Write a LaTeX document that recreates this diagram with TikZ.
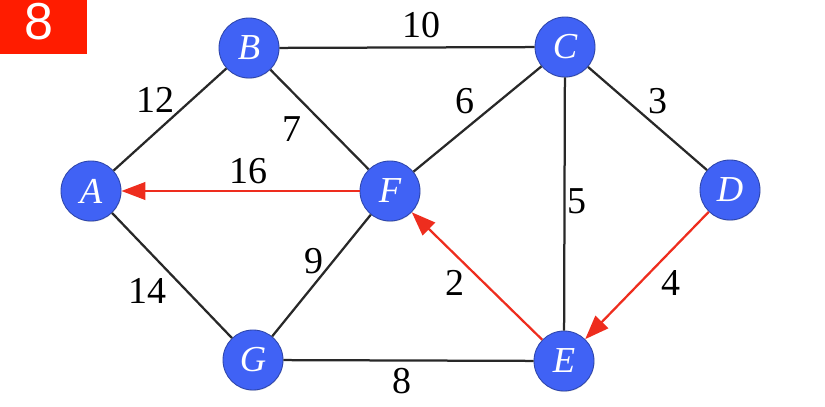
\documentclass[tikz,border=0pt]{standalone}
\usepackage{fontspec}
\setmainfont{Liberation Serif}
\newfontfamily\numfont{Liberation Sans}
\usepackage{tikz}
\usetikzlibrary{arrows.meta,shadows}

\definecolor{vblue}{RGB}{64,98,245}
\definecolor{vedge}{RGB}{40,40,40}
\definecolor{vred}{RGB}{238,45,30}
\definecolor{badgered}{RGB}{255,28,0}

\tikzset{
  vertex/.style={circle,fill=vblue,draw=vblue!70!black,line width=0.6pt,
    minimum size=1.5cm,inner sep=0pt,text=white,font=\fontsize{26}{26}\selectfont\itshape,
    drop shadow={shadow xshift=0.3pt,shadow yshift=-0.6pt,opacity=0.25}},
  edge/.style={draw=vedge,line width=1.6pt},
  redge/.style={draw=vred,line width=1.6pt,-{Triangle[length=0.6cm,width=0.44cm]}},
  wlabel/.style={font=\fontsize{27}{27}\selectfont,text=black}
}

\begin{document}
\begin{tikzpicture}[x=0.025cm,y=-0.025cm]
\useasboundingbox (0,0) rectangle (825,407);

% Badge
\fill[badgered] (0,0) rectangle (87,54);
\node[text=white,font=\numfont\fontsize{37}{37}\selectfont] (badge) at (39,22) {8};

% Vertices
\node[vertex] (A) at (91,191) {A};
\node[vertex] (B) at (249,48) {B};
\node[vertex] (C) at (565,47) {C};
\node[vertex] (D) at (730,190) {D};
\node[vertex] (F) at (390,191) {F};
\node[vertex] (G) at (253,360) {G};
\node[vertex] (E) at (564,361) {E};

% Edges
\draw[edge] (A) -- (B);
\draw[edge] (B) -- (C);
\draw[edge] (B) -- (F);
\draw[edge] (C) -- (F);
\draw[edge] (C) -- (D);
\draw[edge] (C) -- (E);
\draw[edge] (A) -- (G);
\draw[edge] (G) -- (F);
\draw[edge] (G) -- (E);

% Tree edges (red)
\draw[redge] (F) -- (A);
\draw[redge] (E) -- (F);
\draw[redge] (D) -- (E);

% Weights
\node[wlabel] (w10) at (421,25) {10};
\node[wlabel] (w12) at (155,100) {12};
\node[wlabel] (w7) at (292,129) {7};
\node[wlabel] (w6) at (465,101) {6};
\node[wlabel] (w3) at (658,101) {3};
\node[wlabel] (w16) at (248,171) {16};
\node[wlabel] (w5) at (577,201) {5};
\node[wlabel] (w9) at (314,261) {9};
\node[wlabel] (w14) at (147,291) {14};
\node[wlabel] (w2) at (455,283) {2};
\node[wlabel] (w4) at (671,283) {4};
\node[wlabel] (w8) at (402,381) {8};

\end{tikzpicture}
\end{document}
